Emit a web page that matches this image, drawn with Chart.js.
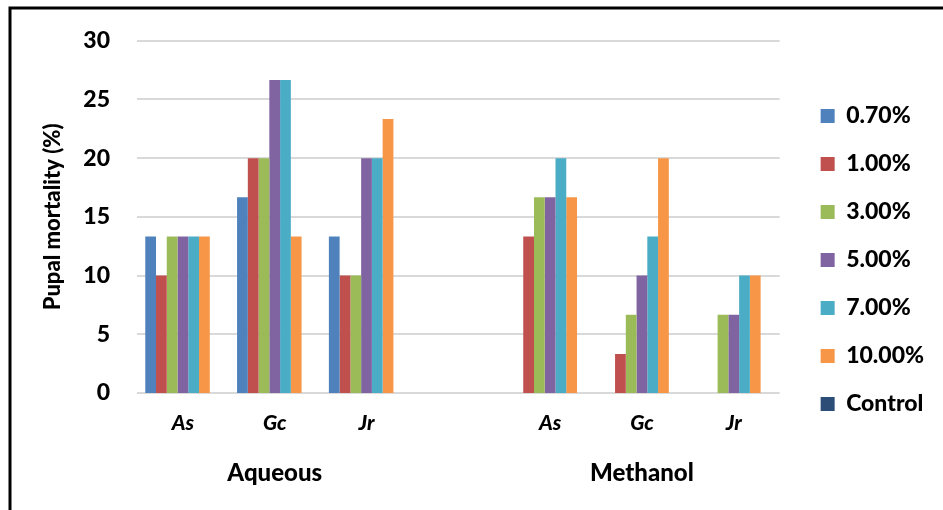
<!DOCTYPE html>
<html>
<head>
<meta charset="utf-8">
<script src="https://cdn.jsdelivr.net/npm/chart.js@4"></script>
<style>
  html, body { margin: 0; padding: 0; background: #fff; }
  #wrap { position: relative; width: 943px; height: 510px; }
</style>
</head>
<body>
<div id="wrap"><canvas id="mortalityChart"></canvas></div>
<script>
// Categories on the x axis (blank slot separates the two extracts)
const categories = ['As', 'Gc', 'Jr', '', 'As', 'Gc', 'Jr'];
const groupLabels = ['Aqueous', 'Methanol'];
const groupCenters = [1, 5]; // category index each group label sits under

// Pupal mortality (%) per concentration
const conc070 = [13.33, 16.67, 13.33, null, 0, 0, 0];
const conc100 = [10, 20, 10, null, 13.33, 3.33, 0];
const conc300 = [13.33, 20, 10, null, 16.67, 6.67, 6.67];
const conc500 = [13.33, 26.67, 20, null, 16.67, 10, 6.67];
const conc700 = [13.33, 26.67, 20, null, 20, 13.33, 10];
const conc1000 = [13.33, 13.33, 23.33, null, 16.67, 20, 10];
const control = [0, 0, 0, null, 0, 0, 0];

const seriesNames = ['0.70%', '1.00%', '3.00%', '5.00%', '7.00%', '10.00%', 'Control'];
const seriesData = [conc070, conc100, conc300, conc500, conc700, conc1000, control];
const seriesColors = ['#4f81bd', '#c0504d', '#9bbb59', '#8064a2', '#4bacc6', '#f79646', '#2c4d75'];

const yTicks = [0, 5, 10, 15, 20, 25, 30];

const FONT = "Lato, 'Open Sans', sans-serif";
const WEIGHT = '900';

// frame lines + group labels under the axis
const extrasPlugin = {
    id: 'extras',
    beforeDraw(chart) {
        const ctx = chart.ctx;
        ctx.save();
        ctx.strokeStyle = '#000';
        ctx.lineWidth = 3;
        ctx.beginPath();
        ctx.moveTo(10, 510);
        ctx.lineTo(10, 8);
        ctx.lineTo(943, 8);
        ctx.stroke();
        ctx.restore();
    },
    afterDraw(chart) {
        const ctx = chart.ctx;
        const x = chart.scales.x;
        ctx.save();
        ctx.fillStyle = '#000';
        ctx.font = WEIGHT + " 24px " + FONT;
        ctx.textAlign = 'center';
        ctx.textBaseline = 'middle';
        groupLabels.forEach((lbl, i) => {
            ctx.fillText(lbl, x.getPixelForValue(groupCenters[i]), 473);
        });
        ctx.restore();
    }
};

const ctx = document.getElementById('mortalityChart').getContext('2d');
new Chart(ctx, {
    type: 'bar',
    data: {
        labels: categories,
        datasets: seriesNames.map((name, i) => ({
            label: name,
            data: seriesData[i],
            backgroundColor: seriesColors[i],
            borderWidth: 0,
            categoryPercentage: 0.82,
            barPercentage: 1.0
        }))
    },
    options: {
        responsive: true,
        maintainAspectRatio: false,
        animation: false,
        layout: { padding: { top: 10, right: 9, bottom: 0, left: 40 } },
        plugins: {
            legend: {
                position: 'right',
                labels: {
                    color: '#000',
                    font: { family: FONT, size: 23, weight: WEIGHT },
                    boxWidth: 14,
                    boxHeight: 14,
                    padding: 25
                }
            },
            tooltip: { enabled: false }
        },
        scales: {
            x: {
                grid: { display: false },
                border: { display: false },
                ticks: {
                    color: '#000',
                    padding: 10,
                    font: { family: FONT, size: 21, weight: WEIGHT, style: 'italic' }
                },
                afterFit(scale) { scale.height = 117; }
            },
            // empty spacer boxes to place the plot area
            xTop: {
                type: 'category',
                position: 'top',
                grid: { display: false },
                border: { display: false },
                ticks: { display: false },
                afterFit(scale) { scale.height = 26; }
            },
            yRight: {
                type: 'linear',
                position: 'right',
                grid: { display: false },
                border: { display: false },
                ticks: { display: false },
                afterFit(scale) { scale.width = 16; }
            },
            y: {
                min: 0,
                max: 30,
                afterBuildTicks(scale) { scale.ticks = yTicks.map(v => ({ value: v })); },
                grid: { color: '#d9d9d9', lineWidth: 2, drawTicks: false },
                border: { display: false },
                ticks: {
                    color: '#000',
                    padding: 27,
                    font: { family: FONT, size: 23, weight: WEIGHT }
                },
                title: {
                    display: true,
                    text: 'Pupal mortality (%)',
                    color: '#000',
                    font: { family: FONT, size: 22, weight: WEIGHT },
                    padding: { top: 0, bottom: 0 }
                },
                afterFit(scale) { scale.width = 97; }
            }
        }
    },
    plugins: [extrasPlugin]
});
</script>
</body>
</html>
